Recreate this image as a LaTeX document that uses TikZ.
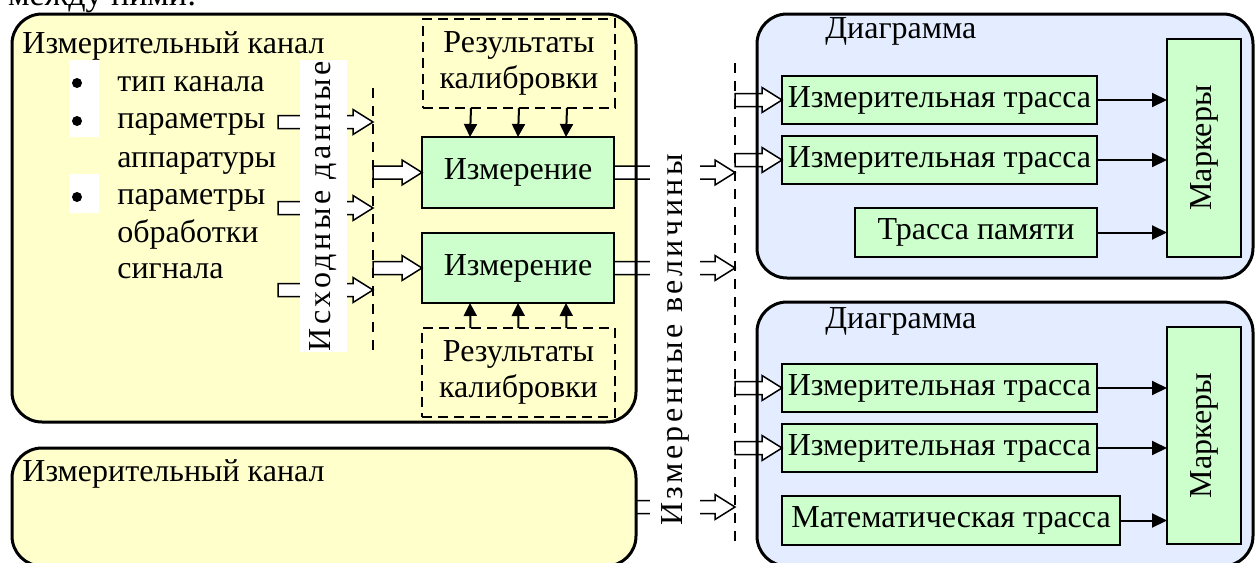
\documentclass[tikz,border=0pt]{standalone}
\usepackage{fontspec}
\setmainfont{Liberation Serif}
\usetikzlibrary{calc,positioning,arrows.meta}
\definecolor{chanfill}{HTML}{FFFFCC}
\definecolor{diagfill}{HTML}{E3EDFF}
\definecolor{blockfill}{HTML}{CCFFCC}
\newcommand{\hollowarrow}[2]{%
  \draw[line width=0.75pt,fill=white,line join=miter] ($(#1)+(0,-6.5)$) -- ($(#2)+(-20,-6.5)$) -- ($(#2)+(-20,-12.5)$) -- (#2)
    -- ($(#2)+(-20,12.5)$) -- ($(#2)+(-20,6.5)$) -- ($(#1)+(0,6.5)$) -- cycle;}

\begin{document}
\begin{tikzpicture}[x=0.5pt,y=-0.5pt,font=\fontsize{16}{18}\selectfont,
    txt/.style={anchor=base west,inner sep=0},
    box/.style={inner sep=0,outer sep=0,rounded corners=15pt},
    block/.style={draw,fill=blockfill,line width=1pt,inner sep=0,outer sep=0},
    calib/.style={draw,dash pattern=on 5pt off 3pt,line width=1pt,inner sep=0,outer sep=0,align=center},
    vlabel/.style={fill=white,rotate=90,inner sep=0},
    bus/.style={dash pattern=on 5pt off 4pt,line width=0.75pt},
    feed/.style={-{Triangle[length=7.5pt,width=7pt]},line width=1pt},
    cal/.style={-{Triangle[length=6.5pt,width=6.5pt]},line width=1pt}]
  \useasboundingbox (0,0) rectangle (1255,563);
  \node[anchor=base east,inner sep=0,font=\fontsize{17}{19}\selectfont] (prev) at (197,5) {между ними:};

  \node[box,fill=chanfill,minimum width=312pt,minimum height=204pt] (chanA) at (324,218) {};
  \node[box,fill=chanfill,minimum width=312pt,minimum height=59pt] (chanB) at (324,507) {};
  \node[box,fill=diagfill,minimum width=248pt,minimum height=132pt] (diagA) at (1005,146) {};
  \node[box,fill=diagfill,minimum width=248pt,minimum height=132pt] (diagB) at (1005,434) {};

  \fill[white] (69,60) rectangle (99,137) (69,174) rectangle (99,213);
  \foreach \y in {83,121,197} \fill (77,\y) circle (2.5pt);
  \node[txt] (chanAname) at (22,53) {Измерительный канал};
  \node[txt] (chanBname) at (22,481) {Измерительный канал};
  \node[txt] (type) at (117,91) {тип канала};
  \node[txt] (hw1) at (117,128) {параметры};
  \node[txt] (hw2) at (117,167) {аппаратуры};
  \node[txt] (sig1) at (117,204) {параметры};
  \node[txt] (sig2) at (117,242) {обработки};
  \node[txt] (sig3) at (117,278) {сигнала};

  \node[block,minimum width=96pt,minimum height=35.5pt] (measA) at (518,172.5) {Измерение};
  \node[block,minimum width=96pt,minimum height=35pt] (measB) at (518,268) {Измерение};
  \node[calib,minimum width=96pt,minimum height=44.5pt] (calA) at (519,63.5) {Результаты\\калибровки};
  \node[calib,minimum width=96.5pt,minimum height=44.5pt] (calB) at (518.5,372.5) {Результаты\\калибровки};
  \foreach \dx in {-48,0,48} {
    \draw[cal] ($(calA.south)+(\dx,0)$) -- ($(measA.north)+(\dx,0)$);
    \draw[cal] ($(calB.north)+(\dx,0)$) -- ($(measB.south)+(\dx,0)$);
  }

  \node[txt] (diagAname) at (825,38) {Диаграмма};
  \node[txt] (diagBname) at (825,328) {Диаграмма};
  \node[block,minimum width=157.5pt,minimum height=24pt] (trA1) at (939.5,100) {Измерительная трасса};
  \node[block,minimum width=157.5pt,minimum height=24pt] (trA2) at (939.5,160) {Измерительная трасса};
  \node[block,minimum width=121pt,minimum height=24.5pt] (memA) at (976,232.5) {Трасса памяти};
  \node[block,rotate=90,minimum width=109pt,minimum height=37pt] (markA) at (1204,148) {Маркеры};
  \node[block,minimum width=157.5pt,minimum height=24pt] (trB1) at (939.5,388) {Измерительная трасса};
  \node[block,minimum width=157.5pt,minimum height=24pt] (trB2) at (939.5,448) {Измерительная трасса};
  \node[block,minimum width=169pt,minimum height=24.5pt] (mathB) at (951,520.5) {Математическая трасса};
  \node[block,rotate=90,minimum width=108.5pt,minimum height=37pt] (markB) at (1204,435.5) {Маркеры};
  \foreach \n/\m in {trA1/markA,trA2/markA,memA/markA,trB1/markB,trB2/markB,mathB/markB}
    \draw[feed] (\n.east) -- (\n.east -| \m.north);

  \coordinate (srcTop) at (373,88);
  \coordinate (srcBot) at (373,350);
  \coordinate (resTop) at (735,63);
  \coordinate (resBot) at (735,542);
  \coordinate (in1) at (278,122);
  \coordinate (in2) at (278,208);
  \coordinate (in3) at (278,290);
  \foreach \c in {in1,in2,in3} \hollowarrow{\c}{\c -| srcTop};
  \hollowarrow{measA.west -| srcTop}{measA.west}
  \hollowarrow{measB.west -| srcTop}{measB.west}
  \hollowarrow{measA.east}{measA.east -| resTop}
  \hollowarrow{measB.east}{measB.east -| resTop}
  \hollowarrow{chanB.east}{chanB.east -| resTop}
  \foreach \n in {trA1,trA2,trB1,trB2} \hollowarrow{\n.west -| resTop}{\n.west};

  \foreach \n in {chanA,chanB,diagA,diagB}
    \draw[line width=1.5pt,rounded corners=15pt] (\n.south west) rectangle (\n.north east);
  \draw[bus] (srcTop) -- (srcBot);
  \draw[bus] (resTop) -- (resBot);
  \node[vlabel,minimum width=146pt,minimum height=23.5pt] (srcName) at (323.5,206) {\addfontfeature{LetterSpace=11}Исходные данные};
  \node[vlabel,minimum width=180pt,minimum height=25pt] (resName) at (675,340) {\addfontfeature{LetterSpace=11}Измеренные величины};
\end{tikzpicture}
\end{document}
